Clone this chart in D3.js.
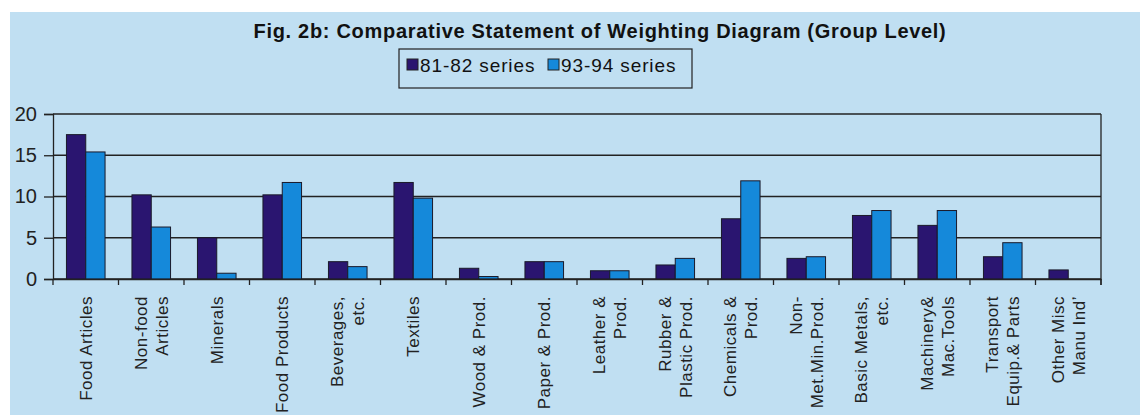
<!DOCTYPE html>
<html>
<head>
<meta charset="utf-8">
<script src="https://cdn.jsdelivr.net/npm/d3@7"></script>
<style>
  body { margin: 0; background: #fff; }
  svg { display: block; font-family: "Liberation Sans", Arial, sans-serif; }
</style>
</head>
<body>
<div id="chart"></div>
<script>
var categories = [
    ["Food Articles"], ["Non-food", "Articles"], ["Minerals"], ["Food Products"],
    ["Beverages,", "etc."], ["Textiles"], ["Wood & Prod."], ["Paper & Prod."],
    ["Leather &", "Prod."], ["Rubber &", "Plastic Prod."], ["Chemicals &", "Prod."],
    ["Non-", "Met.Min.Prod."], ["Basic Metals,", "etc."], ["Machinery&", "Mac.Tools"],
    ["Transport", "Equip.& Parts"], ["Other Misc", "Manu Ind\u02BC"]
];
var series8182 = [17.5, 10.2, 5.0, 10.2, 2.1, 11.7, 1.3, 2.1, 1.0, 1.7, 7.3, 2.5, 7.7, 6.5, 2.7, 1.1];
var series9394 = [15.4, 6.3, 0.7, 11.7, 1.5, 9.8, 0.3, 2.1, 1.0, 2.5, 11.9, 2.7, 8.3, 8.3, 4.4, 0];
var seriesNames = ["81-82 series", "93-94 series"];
var seriesColors = ["#2a1570", "#1589da"];
var yTicks = [0, 5, 10, 15, 20];

var W = 1140, H = 415;
var plot = {left: 53, right: 1101, top: 114, bottom: 279};

var svg = d3.select("#chart").append("svg")
    .attr("width", W)
    .attr("height", H);

// panel background
svg.append("rect")
    .attr("x", 10).attr("y", 12)
    .attr("width", W - 10).attr("height", H - 12)
    .attr("fill", "#c0dff2");

svg.append("text")
    .attr("x", 600).attr("y", 38)
    .attr("text-anchor", "middle")
    .attr("font-size", 20)
    .attr("font-weight", "bold")
    .attr("letter-spacing", 0.7)
    .attr("fill", "#111")
    .text("Fig. 2b: Comparative Statement of Weighting Diagram (Group Level)");

// legend
var legend = svg.append("g").attr("transform", "translate(399,49)");
legend.append("rect")
    .attr("width", 293).attr("height", 39)
    .attr("fill", "none").attr("stroke", "#222").attr("stroke-width", 1.2);
var legendX = [8, 149];
seriesNames.forEach(function(name, i) {
    legend.append("rect")
        .attr("x", legendX[i]).attr("y", 10)
        .attr("width", 11).attr("height", 11)
        .attr("fill", seriesColors[i]).attr("stroke", "#222");
    legend.append("text")
        .attr("x", legendX[i] + 13).attr("y", 23)
        .attr("font-size", 19)
        .attr("letter-spacing", 0.9)
        .attr("fill", "#111")
        .text(name);
});

var x = d3.scaleBand()
    .domain(d3.range(categories.length))
    .range([plot.left, plot.right]);

var xInner = d3.scaleBand()
    .domain([0, 1])
    .range([0, 38.6])
    .padding(0);

var y = d3.scaleLinear()
    .domain([0, 20])
    .range([plot.bottom, plot.top]);

// grid lines
svg.append("g")
    .selectAll("line")
    .data(yTicks)
    .enter().append("line")
    .attr("x1", plot.left).attr("x2", plot.right)
    .attr("y1", function(d) { return y(d); })
    .attr("y2", function(d) { return y(d); })
    .attr("stroke", "#222").attr("stroke-width", 1.3);

// right border
svg.append("line")
    .attr("x1", plot.right).attr("x2", plot.right)
    .attr("y1", plot.top).attr("y2", plot.bottom + 6)
    .attr("stroke", "#222").attr("stroke-width", 1.3);

// bars
var groups = svg.append("g")
    .selectAll("g")
    .data(categories.map(function(c, i) { return [series8182[i], series9394[i]]; }))
    .enter().append("g")
    .attr("transform", function(d, i) {
        return "translate(" + (x(i) + (x.bandwidth() - 38.6) / 2) + ",0)";
    });

groups.selectAll("rect")
    .data(function(d) { return d; })
    .enter().filter(function(d) { return d > 0; })
    .append("rect")
    .attr("x", function(d, j) { return xInner(j); })
    .attr("y", function(d) { return y(d); })
    .attr("width", xInner.bandwidth())
    .attr("height", function(d) { return y(0) - y(d); })
    .attr("fill", function(d, j) { return seriesColors[j]; })
    .attr("stroke", "#1a1a2a").attr("stroke-width", 1);

// y axis
var yAxis = svg.append("g")
    .attr("transform", "translate(" + plot.left + ",0)")
    .call(d3.axisLeft(y).tickValues(yTicks).tickSize(9).tickPadding(7));
yAxis.select(".domain").attr("stroke", "#222").attr("stroke-width", 1.3);
yAxis.selectAll(".tick line").attr("stroke", "#222").attr("stroke-width", 1.3);
yAxis.selectAll("text").attr("font-size", 20).attr("fill", "#222")
    .attr("font-family", "Liberation Sans, Arial, sans-serif");

// x axis
var xAxis = svg.append("g")
    .attr("transform", "translate(0," + plot.bottom + ")")
    .call(d3.axisBottom(x).tickValues([]).tickSizeOuter(0));
xAxis.select(".domain").attr("stroke", "#222").attr("stroke-width", 1.3);
xAxis.selectAll(".sep")
    .data(d3.range(categories.length + 1))
    .enter().append("line")
    .attr("class", "sep")
    .attr("x1", function(i) { return i < categories.length ? x(i) : plot.right; })
    .attr("x2", function(i) { return i < categories.length ? x(i) : plot.right; })
    .attr("y1", 0).attr("y2", 6)
    .attr("stroke", "#222").attr("stroke-width", 1.3);

// rotated category labels
var labels = svg.append("g")
    .selectAll("text")
    .data(categories)
    .enter().append("text")
    .attr("transform", function(d, i) {
        return "translate(" + (x(i) + x.bandwidth() / 2) + ",296) rotate(-90)";
    })
    .attr("text-anchor", "end")
    .attr("font-size", 17)
    .attr("letter-spacing", 0.5)
    .attr("fill", "#222");

labels.each(function(lines) {
    var t = d3.select(this);
    var n = lines.length;
    lines.forEach(function(line, k) {
        t.append("tspan")
            .attr("x", 0)
            .attr("y", (k - (n - 1) / 2) * 21 + 6)
            .text(line);
    });
});
</script>
</body>
</html>
